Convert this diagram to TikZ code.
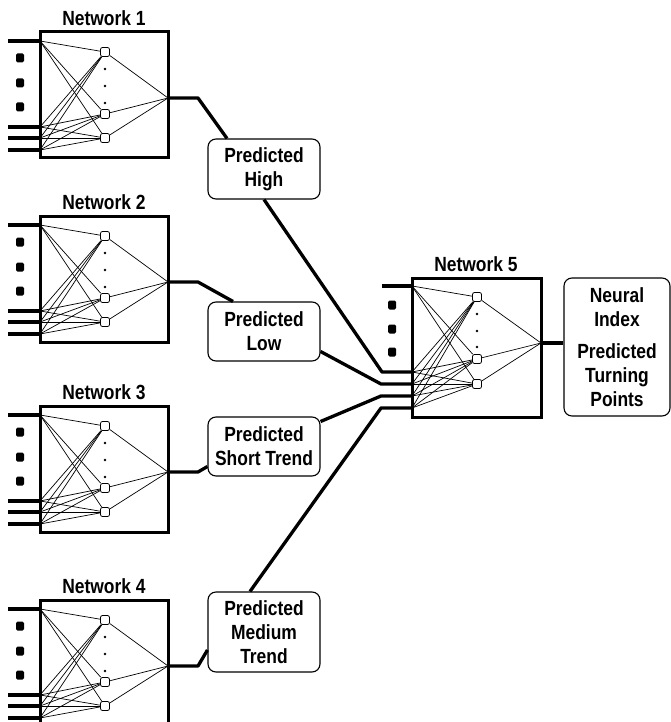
\documentclass[tikz,border=0pt]{standalone}
\usepackage{fontspec}
\newfontfamily\netfont{Liberation Sans}[FakeStretch=0.85]
\usetikzlibrary{calc}

\begin{document}
\begin{tikzpicture}[x=1pt,y=-1pt,
    title/.style={font=\netfont\bfseries\fontsize{20.5}{24}\selectfont},
    netbox/.style={draw,line width=3pt,minimum width=128pt,inner sep=0pt},
    unit/.style={draw,fill=white,line width=0.8pt,rounded corners=2pt,minimum size=9pt,inner sep=0pt},
    dotbox/.style={fill=black,rounded corners=1.5pt,minimum width=8pt,minimum height=9pt,inner sep=0pt},
    tinydot/.style={circle,fill=black,minimum size=2.8pt,inner sep=0pt},
    wire/.style={line width=0.7pt},
    bus/.style={line width=3.3pt,line join=round},
    result/.style={title,draw,line width=1.1pt,rounded corners=8pt,align=center,inner sep=0pt,minimum width=112pt}]
            \useasboundingbox (0,0) rectangle (671,722);

            % the four input networks
            \foreach \n/\T in {1/32,2/216,3/406,4/600}{
               \node[netbox,minimum height=126pt] (net\n) at (104,\T+63) {};
               \node[title] (lab\n) at (104,\T-14) {Network \n};
               \coordinate (net\n-i0) at (40,\T+9);
               \coordinate (net\n-i1) at (40,\T+95);
               \coordinate (net\n-i2) at (40,\T+106);
               \coordinate (net\n-i3) at (40,\T+118);
               \coordinate (net\n-out) at (168,\T+66);
               \node[unit] (net\n-h1) at (105,\T+20) {};
               \node[unit] (net\n-h2) at (105,\T+82) {};
               \node[unit] (net\n-h3) at (105,\T+106) {};
               \foreach \y in {26,51,75} \node[dotbox] at (20,\T+\y) {};
               \foreach \y in {37,54,71} \node[tinydot] at (105,\T+\y) {};
               \foreach \k in {0,...,3}{
                  \draw[bus] (net\n-i\k) -- ++(-32,0);
                  \foreach \h in {1,2,3} \draw[wire] (net\n-i\k) -- (net\n-h\h);
               }
               \foreach \h in {1,2,3} \draw[wire] (net\n-h\h) -- (net\n-out);
            }

            % network 5
            \node[netbox,minimum width=129pt,minimum height=139pt] (net5) at (476.5,347.5) {};
            \node[title] (lab5) at (476,264) {Network 5};
            \coordinate (net5-i0) at (412,286);
            \coordinate (net5-i1) at (412,372);
            \coordinate (net5-i2) at (412,384);
            \coordinate (net5-i3) at (412,396);
            \coordinate (net5-i4) at (412,408);
            \coordinate (net5-out) at (541,343);
            \node[unit] (net5-h1) at (477,297) {};
            \node[unit] (net5-h2) at (477,359) {};
            \node[unit] (net5-h3) at (477,384) {};
            \foreach \y in {305,329,352} \node[dotbox] at (392,\y) {};
            \foreach \y in {314,331,347} \node[tinydot] at (477,\y) {};
            \draw[bus] (net5-i0) -- ++(-30,0);
            \foreach \k in {0,...,4}{
               \foreach \h in {1,2,3} \draw[wire] (net5-i\k) -- (net5-h\h);
            }
            \foreach \h in {1,2,3} \draw[wire] (net5-h\h) -- (net5-out);

            % predictions
            \node[result,minimum height=60pt] (high) at (264,169) {Predicted\\High};
            \node[result,minimum height=59pt] (low) at (264,331.5) {Predicted\\Low};
            \node[result,minimum height=59pt] (short) at (264,446.5) {Predicted\\Short Trend};
            \node[result,minimum height=80pt] (med) at (264,632) {Predicted\\Medium\\Trend};
            \node[result,minimum width=106pt,minimum height=138pt] (neural) at (617,347)
               {Neural\\Index\\[8pt]Predicted\\Turning\\Points};

            \draw[bus] (net1-out) -- ++(30,0) -- ([xshift=-37pt]high.north);
            \draw[bus] (net2-out) -- ++(30,0) -- ([xshift=-31pt]low.north);
            \draw[bus] (net3-out) -- ++(30,0) -- ([yshift=-20pt]short.west);
            \draw[bus] (net4-out) -- ++(30,0) -- ([yshift=-18pt]med.west);

            \draw[bus] (high.south) -- ([xshift=-30pt]net5-i1) -- (net5-i1);
            \draw[bus] ([yshift=-20pt]low.east) -- ([xshift=-31pt]net5-i2) -- (net5-i2);
            \draw[bus] ([yshift=25pt]short.east) -- ([xshift=-31pt]net5-i3) -- (net5-i3);
            \draw[bus] ([xshift=-14pt]med.north) -- ([xshift=-31pt]net5-i4) -- (net5-i4);
            \draw[bus] (net5-out) -- (net5-out -| neural.west);
\end{tikzpicture}
\end{document}
